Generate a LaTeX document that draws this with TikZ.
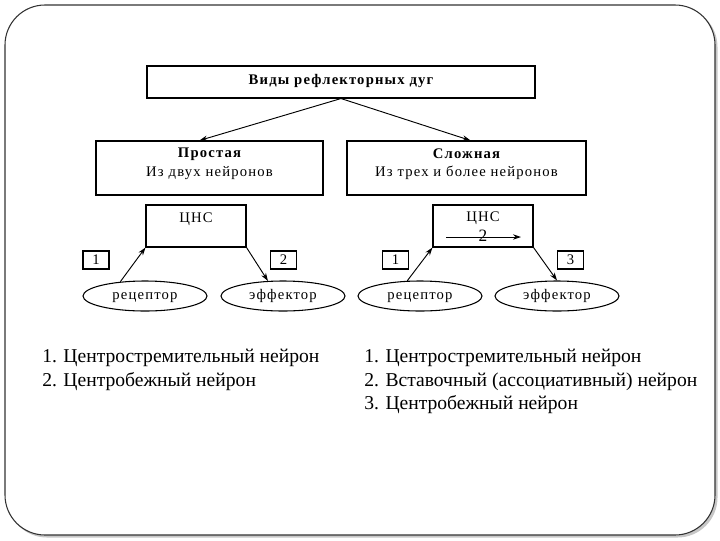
\documentclass[tikz,border=0pt]{standalone}
\usepackage{fontspec}
\setmainfont{Liberation Serif}
\newfontfamily\diagfont[LetterSpace=8]{Liberation Serif}
\usetikzlibrary{arrows.meta,shapes.geometric,calc}
\tikzset{
  box/.style={draw, line width=0.8pt, inner sep=0pt},
  oval/.style={draw, ellipse, line width=0.8pt, inner sep=0pt, minimum width=93pt, minimum height=22.5pt,
    text height=7.5pt, text depth=2.5pt, font=\diagfont\fontsize{11}{13}\selectfont},
  numbox/.style={box, minimum width=19.5pt, minimum height=13.5pt, font=\diagfont\fontsize{11}{13}\selectfont},
  link/.style={-{Stealth[length=6pt,width=4pt]}, line width=0.7pt},
  txt/.style={inner sep=0pt, font=\diagfont\fontsize{11}{13}\selectfont},
  listtxt/.style={inner sep=0pt, anchor=west, font=\fontsize{14.7}{18}\selectfont}
}
\begin{document}
\begin{tikzpicture}[x=0.75pt, y=-0.75pt]
  \useasboundingbox (0,0) rectangle (720,540);
  % frame
  \fill[black!22, rounded corners=30pt] (7,7) rectangle (717.5,537.5);
  \draw[black!80, fill=white, line width=0.8pt, rounded corners=30pt] (5,5) rectangle (715,535);

  \draw (341,82)  node (title) [box, minimum width=291pt, minimum height=24pt] {};
  \draw (341,81)  node (titleText) [txt] {\bfseries Виды рефлекторных дуг};

  \draw (209.5,168)  node (simple) [box, minimum width=170.25pt, minimum height=40.5pt] {};
  \draw (209.5,154)  node (simpleHead) [txt] {\bfseries Простая};
  \draw (209.5,173)  node (simpleSub) [txt] {Из двух нейронов};
  \draw (466.5,168)  node (complex) [box, minimum width=179.25pt, minimum height=40.5pt] {};
  \draw (466.5,154)  node (complexHead) [txt] {\bfseries Сложная};
  \draw (466.5,173)  node (complexSub) [txt] {Из трех и более нейронов};

  \draw[link] (title.south) -- ($(simple.north)+(-10,0)$);
  \draw[link] (title.south) -- ($(complex.north)+(4,0)$);

  % simple arc
  \draw (196,226)  node (cnsL) [box, minimum width=75pt, minimum height=31.5pt] {};
  \draw (196,219)  node (cnsLText) [txt] {ЦНС};
  \draw (96,260)  node (numL1) [numbox] {1};
  \draw (283.5,260)  node (numL2) [numbox] {2};
  \draw (145,296)  node (recL) [oval] {рецептор};
  \draw (283,296)  node (effL) [oval] {эффектор};
  \draw[link] (recL.150) -- (cnsL.south west);
  \draw[link] (cnsL.south east) -- (effL.135);

  % complex arc
  \draw (483,226)  node (cnsR) [box, minimum width=75pt, minimum height=31.5pt] {};
  \draw (483,218)  node (cnsRText) [txt] {ЦНС};
  \coordinate (flowA) at (446,237);
  \coordinate (flowB) at (521,237);
  \draw[link] (flowA) -- (flowB);
  \draw (483,235.5)  node (inter) [txt, font=\diagfont\fontsize{13}{15}\selectfont] {2};
  \draw (395.5,260)  node (numR1) [numbox] {1};
  \draw (570.5,260)  node (numR3) [numbox] {3};
  \draw (420,296)  node (recR) [oval] {рецептор};
  \draw (557,296)  node (effR) [oval] {эффектор};
  \draw[link] (recR.130) -- (cnsR.south west);
  \draw[link] (cnsR.south east) -- (effR.north);

  % legends
  \draw (42,358)  node (legL1) [listtxt] {1. Центростремительный нейрон};
  \draw (42,382)  node (legL2) [listtxt] {2. Центробежный нейрон};
  \draw (364,358)  node (legR1) [listtxt] {1. Центростремительный нейрон};
  \draw (364,382)  node (legR2) [listtxt] {2. Вставочный (ассоциативный) нейрон};
  \draw (364,405)  node (legR3) [listtxt] {3. Центробежный нейрон};
\end{tikzpicture}
\end{document}
